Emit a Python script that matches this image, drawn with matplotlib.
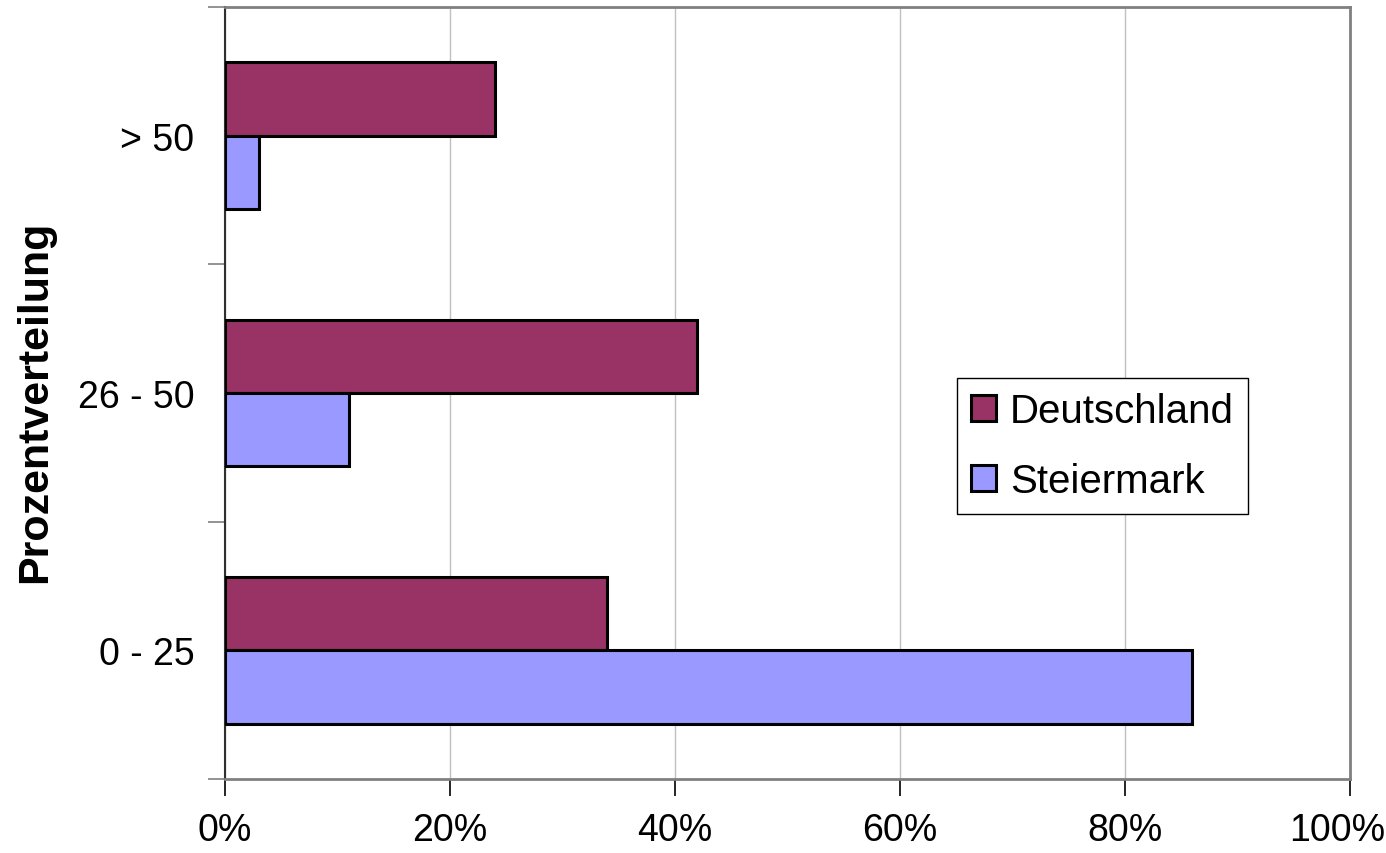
import matplotlib.pyplot as plt
import matplotlib.transforms as mtransforms
import numpy as np
from matplotlib.ticker import FuncFormatter

categories = ["0 - 25", "26 - 50", "> 50"]
deutschland = [34, 42, 24]
steiermark = [86, 11, 3]
x_ticks = [0, 20, 40, 60, 80, 100]

COLOR_DE = "#993366"
COLOR_ST = "#9999ff"

plt.rcParams["font.family"] = ["Liberation Sans", "DejaVu Sans"]

fig = plt.figure(figsize=(13.86, 8.54), dpi=100)
ax = fig.add_axes([0.1623, 0.0867, 0.8117, 0.904])

y = np.arange(len(categories))
h = 0.285
ax.barh(y + h / 2, deutschland, height=h, color=COLOR_DE, edgecolor="black",
        linewidth=2.2, label="Deutschland", zorder=3)
ax.barh(y - h / 2, steiermark, height=h, color=COLOR_ST, edgecolor="black",
        linewidth=2.2, label="Steiermark", zorder=3)

ax.set_xlim(0, 100)
ax.set_ylim(-0.5, 2.5)
ax.set_xticks(x_ticks)
ax.xaxis.set_major_formatter(FuncFormatter(lambda v, p: f"{v:.0f}%"))
ax.set_yticks(y)
ax.set_yticklabels(categories)
ax.set_yticks([-0.5, 0.5, 1.5, 2.5], minor=True)
ax.tick_params(axis="y", which="major", length=0, labelsize=27, pad=22)
ax.tick_params(axis="y", which="minor", length=12, width=1.2, color="#808080")
ax.tick_params(axis="x", length=12, width=1.2, labelsize=27, pad=12)

# nudge the last x label left so it stays inside the figure
last = ax.get_xticklabels()[-1]
last.set_transform(last.get_transform() +
                   mtransforms.ScaledTranslation(-13 / 100, 0, fig.dpi_scale_trans))

ax.grid(axis="x", color="#c0c0c0", linewidth=1, zorder=0)
for side in ("top", "right", "bottom"):
    ax.spines[side].set_color("#808080")
    ax.spines[side].set_linewidth(2)
ax.spines["left"].set_color("#303030")
ax.spines["left"].set_linewidth(1.5)

ax.set_ylabel("Prozentverteilung", fontsize=31, fontweight="bold")
ax.yaxis.set_label_coords(-0.151, 0.49)

ax.legend(loc="center left", bbox_to_anchor=(0.651, 0.431), fontsize=29,
          frameon=True, fancybox=False, edgecolor="black", framealpha=1,
          handlelength=0.6, handleheight=0.6, handletextpad=0.35,
          borderpad=0.35, labelspacing=0.8, borderaxespad=0)

fig.savefig("out.png", dpi=100, facecolor="white")
